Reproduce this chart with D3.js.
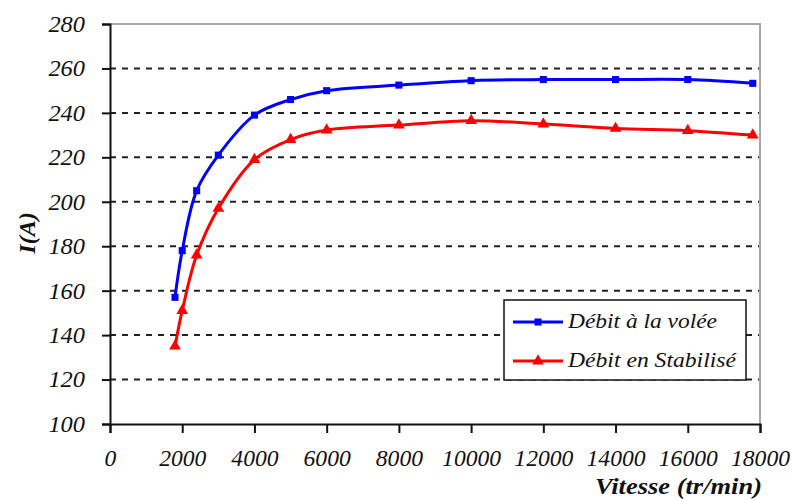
<!DOCTYPE html>
<html><head><meta charset="utf-8">
<script src="https://cdn.jsdelivr.net/npm/d3@7"></script>
</head>
<body style="margin:0"><svg id="c" width="792" height="500" style="display:block;background:#fff"></svg>
<script>
const speeds = [1800, 2000, 2400, 3000, 4000, 5000, 6000, 8000, 10000, 12000, 14000, 16000, 17800];
const debitVolee = [157, 178, 205, 221, 239, 246, 250, 252.5, 254.5, 255, 255, 255, 253.3];
const debitStab = [135, 151, 176, 197, 219, 228, 232.3, 234.5, 236.5, 235, 233, 232, 230];
const xTicks = [0, 2000, 4000, 6000, 8000, 10000, 12000, 14000, 16000, 18000];
const yTicks = [100, 120, 140, 160, 180, 200, 220, 240, 260, 280];
const seriesNames = ["Débit à la volée", "Débit en Stabilisé"];
const seriesColors = ["#0000ff", "#ff0000"];

const FONT = "Liberation Serif";
const svg = d3.select("#c");
const x = d3.scaleLinear().domain([0, 18000]).range([110, 760]);
const y = d3.scaleLinear().domain([100, 280]).range([424, 24]);

// gridlines
svg.append("g").selectAll("line").data(yTicks.filter(v => v > 100 && v < 280)).join("line")
  .attr("x1", x(0)).attr("x2", x(18000)).attr("y1", d => y(d)).attr("y2", d => y(d))
  .attr("stroke", "#222").attr("stroke-width", 2).attr("stroke-dasharray", "6,6");

// top & right border
svg.append("path").attr("d", `M${x(0)},${y(280)}H${x(18000)}V${y(100)}`)
  .attr("fill", "none").attr("stroke", "#a8a8a8").attr("stroke-width", 2);

// axes
const yAxis = d3.axisLeft(y).tickValues(yTicks).tickSize(8).tickFormat(d3.format("d"));
const gy = svg.append("g").attr("transform", `translate(${x(0)},0)`).call(yAxis);
gy.attr("font-family", FONT).attr("font-size", 23);
gy.select(".domain").attr("stroke", "#111").attr("stroke-width", 2);
gy.selectAll(".tick line").attr("stroke", "#111").attr("stroke-width", 2);
gy.selectAll(".tick text").attr("x", -25).attr("fill", "#111")
  .style("font-family", FONT).style("font-style", "italic").style("font-size", "23px")
  .attr("textLength", d => String(d).length * 12.2).attr("lengthAdjust", "spacingAndGlyphs");

const xAxis = d3.axisBottom(x).tickValues(xTicks).tickSize(9).tickFormat(d3.format("d"));
const gx = svg.append("g").attr("transform", `translate(0,${y(100)})`).call(xAxis);
gx.attr("font-family", FONT).attr("font-size", 23);
gx.select(".domain").attr("stroke", "#111").attr("stroke-width", 2);
gx.selectAll(".tick line").attr("stroke", "#111").attr("stroke-width", 2);
gx.selectAll(".tick text").attr("y", 26).attr("fill", "#111")
  .style("font-family", FONT).style("font-style", "italic").style("font-size", "23px")
  .attr("textLength", d => String(d).length * 11.8).attr("lengthAdjust", "spacingAndGlyphs");

// axis titles
svg.append("text").attr("x", 595).attr("y", 494)
  .style("font-family", FONT).style("font-style", "italic")
  .style("font-size", "24px").style("font-weight", "bold").attr("fill", "#111")
  .attr("textLength", 167).attr("lengthAdjust", "spacingAndGlyphs").text("Vitesse (tr/min)");
svg.append("text").attr("transform", "translate(35,233) rotate(-90)").attr("text-anchor", "middle")
  .style("font-family", FONT).style("font-style", "italic")
  .style("font-size", "24px").style("font-weight", "bold").attr("fill", "#111").text("I(A)");

// series
const series = [debitVolee, debitStab];
const line = d3.line().x(d => x(d[0])).y(d => y(d[1])).curve(d3.curveCatmullRom.alpha(0.5));
series.forEach((vals, i) => {
  const pts = speeds.map((s, j) => [s, vals[j]]);
  svg.append("path").datum(pts).attr("d", line).attr("fill", "none")
    .attr("stroke", seriesColors[i]).attr("stroke-width", 3);
  const sym = i === 0 ? d3.symbolSquare : d3.symbolTriangle;
  const size = i === 0 ? 50 : 60;
  svg.append("g").selectAll("path").data(pts).join("path")
    .attr("transform", d => `translate(${x(d[0])},${y(d[1])})`)
    .attr("d", d3.symbol(sym, size)).attr("fill", seriesColors[i]);
});

// legend
const lg = svg.append("g");
lg.append("rect").attr("x", 504).attr("y", 300).attr("width", 242).attr("height", 80)
  .attr("fill", "#fff").attr("stroke", "#111").attr("stroke-width", 1.5);
seriesNames.forEach((name, i) => {
  const ly = 322 + i * 39;
  lg.append("line").attr("x1", 513).attr("x2", 563).attr("y1", ly).attr("y2", ly)
    .attr("stroke", seriesColors[i]).attr("stroke-width", 3);
  lg.append("path").attr("transform", `translate(538,${ly})`)
    .attr("d", d3.symbol(i === 0 ? d3.symbolSquare : d3.symbolTriangle, i === 0 ? 50 : 60))
    .attr("fill", seriesColors[i]);
  lg.append("text").attr("x", 568).attr("y", ly + 6)
    .style("font-family", FONT).style("font-style", "italic").style("font-size", "21px")
    .attr("fill", "#111")
    .attr("textLength", i === 0 ? 149 : 168).attr("lengthAdjust", "spacingAndGlyphs").text(name);
});
</script></body></html>
